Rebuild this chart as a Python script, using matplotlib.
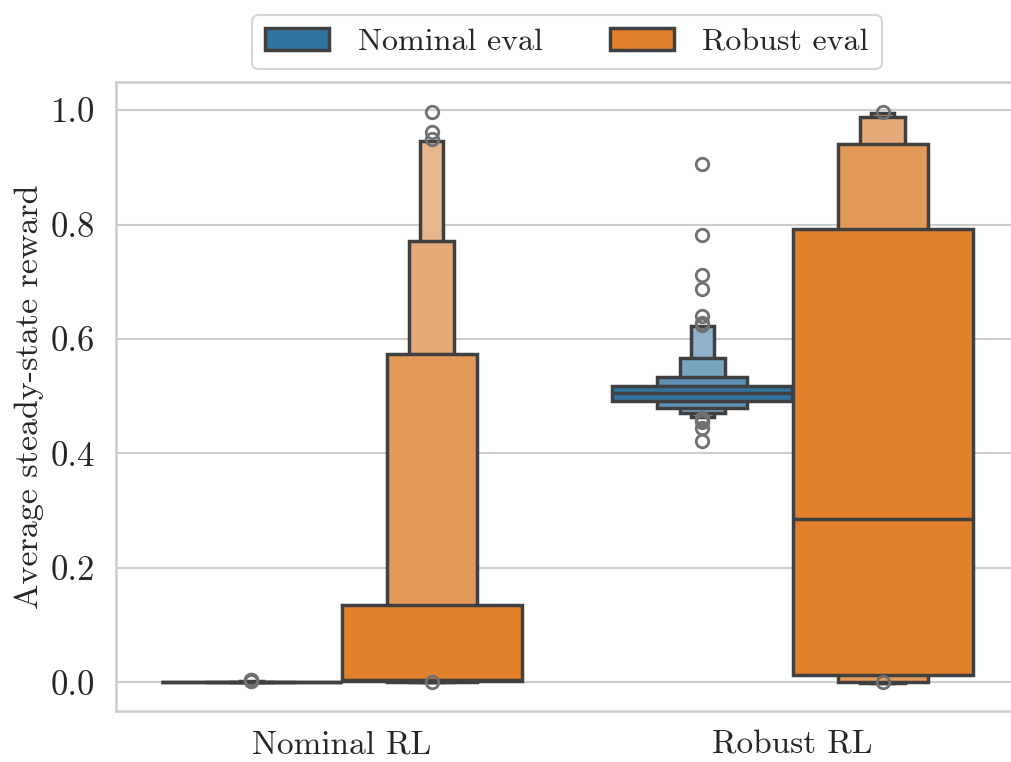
import numpy as np
import matplotlib.pyplot as plt
from matplotlib.patches import Patch

plt.rcParams['font.family'] = ['cmr10', 'DejaVu Serif']
plt.rcParams['mathtext.fontset'] = 'cm'
plt.rcParams['axes.unicode_minus'] = False
plt.rcParams['axes.formatter.use_mathtext'] = True

groups = ['Nominal RL', 'Robust RL']
evals = ['Nominal eval', 'Robust eval']

# letter values, innermost (widest) box first
nom_rl_nom_lo = [0.0003, 0.0002, 0.0001, 0.0]
nom_rl_nom_hi = [0.0009, 0.0012, 0.0015, 0.0018]
nom_rl_nom_med = 0.0006
nom_rl_nom_out = [0.002, 0.003, 0.0035, 0.004, 0.0045]

nom_rl_rob_lo = [0.003, 0.0008, 0.0004, 0.0002]
nom_rl_rob_hi = [0.136, 0.574, 0.771, 0.946]
nom_rl_rob_med = 0.004
nom_rl_rob_out = [0.996, 0.962, 0.949, 0.0]

rob_rl_nom_lo = [0.492, 0.480, 0.471, 0.4636]
rob_rl_nom_hi = [0.518, 0.533, 0.567, 0.622]
rob_rl_nom_med = 0.505
rob_rl_nom_out = [0.906, 0.782, 0.712, 0.688, 0.640, 0.628, 0.624,
                  0.4625, 0.4585, 0.4555, 0.445, 0.4223]

rob_rl_rob_lo = [0.013, 0.0, -0.001, -0.0015]
rob_rl_rob_hi = [0.792, 0.941, 0.987, 0.994]
rob_rl_rob_med = 0.286
rob_rl_rob_out = [0.996, 0.0]

blue_shades = ['#3274a1', '#5b90b4', '#7aa5c2', '#8eb2cb']
orange_shades = ['#e1812c', '#e39a58', '#e6ab78', '#e8b68c']

boxes = [
    (0, 0, nom_rl_nom_lo, nom_rl_nom_hi, nom_rl_nom_med, nom_rl_nom_out),
    (0, 1, nom_rl_rob_lo, nom_rl_rob_hi, nom_rl_rob_med, nom_rl_rob_out),
    (1, 0, rob_rl_nom_lo, rob_rl_nom_hi, rob_rl_nom_med, rob_rl_nom_out),
    (1, 1, rob_rl_rob_lo, rob_rl_rob_hi, rob_rl_rob_med, rob_rl_rob_out),
]

edge = '#404040'
text_col = '#262626'
fig = plt.figure(figsize=(10.11, 7.62), dpi=100)
ax = fig.add_axes([116 / 1011, 1 - 711 / 762, 902 / 1011, 629 / 762])

for gi, hi_idx, lo, hi, med, out in boxes:
    x = gi + (-0.2 if hi_idx == 0 else 0.2)
    shades = blue_shades if hi_idx == 0 else orange_shades
    # narrow outer boxes go underneath the wide inner ones
    for k in range(len(lo) - 1, -1, -1):
        w = 0.4 * 0.5 ** k
        ax.bar(x, hi[k] - lo[k], bottom=lo[k], width=w, color=shades[k],
               edgecolor=edge, linewidth=2.5, zorder=3 + (len(lo) - k))
    ax.plot([x - 0.2, x + 0.2], [med, med], color=edge, lw=2.5, zorder=10,
            solid_capstyle='butt')
    ax.plot([x] * len(out), out, 'o', mfc='none', mec='#707070', ms=9,
            mew=2.0, zorder=11)

ax.set_xlim(-0.5, 1.5)
ax.set_ylim(-0.05, 1.049)
ax.set_xticks(range(len(groups)))
ax.set_xticklabels(groups)
ax.set_yticks(np.arange(0, 1.01, 0.2))
ax.set_yticklabels(['%.1f' % v for v in np.arange(0, 1.01, 0.2)])
ax.tick_params(axis='both', length=0, labelsize=24, colors=text_col)
ax.tick_params(axis='y', labelsize=25, pad=15)
ax.tick_params(axis='x', pad=14)
ax.set_ylabel('Average steady-state reward', fontsize=24.5, color=text_col,
              labelpad=5)
ax.yaxis.grid(True, color='#cccccc', lw=1.5, zorder=0)
ax.set_axisbelow(True)
for s in ax.spines.values():
    s.set_color('#cccccc')
    s.set_linewidth(1.8)

handles = [Patch(facecolor=blue_shades[0], edgecolor=edge, lw=2.5),
           Patch(facecolor=orange_shades[0], edgecolor=edge, lw=2.5)]
leg = ax.legend(handles, evals, loc='lower center', bbox_to_anchor=(0.5, 1.0),
                ncol=2, fontsize=23, handlelength=2.0, handleheight=0.7,
                handletextpad=0.9, columnspacing=2.1, frameon=True,
                borderaxespad=0.4)
leg.get_frame().set_edgecolor('#cccccc')
leg.get_frame().set_linewidth(1.5)
for t in leg.get_texts():
    t.set_color(text_col)

fig.savefig('out.png', dpi=100)
